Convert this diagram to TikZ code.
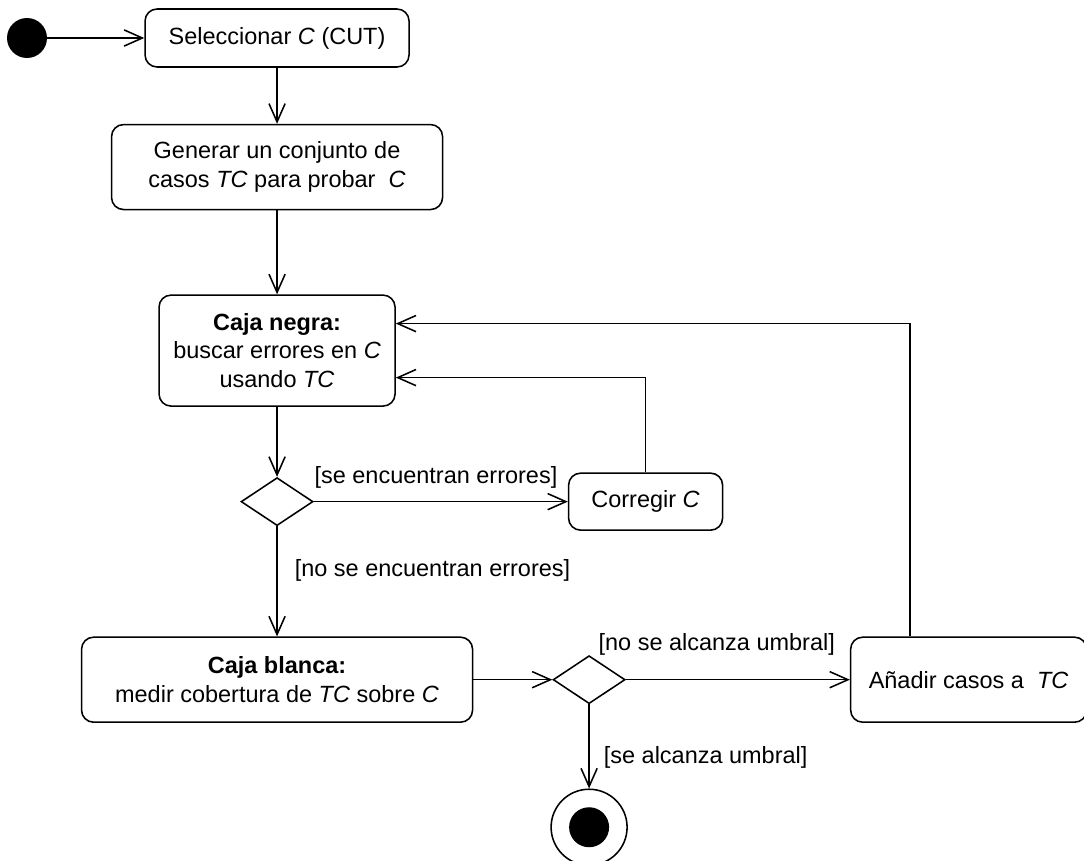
\documentclass[tikz,border=0pt]{standalone}
\usepackage{fontspec}
\setmainfont{Liberation Sans}
\usetikzlibrary{shapes.geometric, arrows.meta, positioning}

\begin{document}
\begin{tikzpicture}[node distance=1.4cm and 2cm, font=\fontsize{16.7}{20.5}\selectfont]
    \tikzstyle{actbox}=[rectangle, rounded corners=0.3cm, draw, line width=1.1pt,
                        align=center, inner sep=2pt]
    \tikzstyle{decision}=[diamond, draw, line width=1.1pt, minimum width=1.8cm,
                          minimum height=1.2cm, inner sep=0pt]
    \tikzstyle{arr}=[-{Straight Barb[length=13pt, width=11.5pt]}, line width=1.1pt]
    \tikzstyle{guard}=[inner sep=0pt, anchor=west]

    \useasboundingbox (0,0) rectangle (27.1,-21.5);

    \node[circle, fill=black, minimum size=1cm, inner sep=0pt] (ini) at (0.675,-0.95) {};
    \node[actbox, minimum width=6.6cm, minimum height=1.45cm, right=2.425cm of ini] (sel)
        {Seleccionar \textit{C} (CUT)};
    \node[actbox, minimum width=8.275cm, minimum height=2.125cm, below=1.4cm of sel] (gen)
        {Generar un conjunto de\\casos \textit{TC} para probar\ \ \textit{C}};
    \node[actbox, minimum width=5.9cm, minimum height=2.775cm, below=2.1cm of gen] (neg)
        {\textbf{Caja negra:}\\buscar errores en \textit{C}\\usando \textit{TC}};
    \node[decision, below=1.75cm of neg] (dec1) {};
    \node[actbox, minimum width=3.85cm, minimum height=1.425cm, right=6.35cm of dec1] (corr)
        {Corregir \textit{C}};
    \node[actbox, minimum width=9.775cm, minimum height=2.125cm, below=2.75cm of dec1] (bla)
        {\textbf{Caja blanca:}\\medir cobertura de \textit{TC} sobre \textit{C}};
    \node[decision, right=1.975cm of bla] (dec2) {};
    \node[actbox, minimum width=5.9cm, minimum height=2.125cm, right=5.6cm of dec2] (ana)
        {Añadir casos a\ \ \textit{TC}};
    \node[circle, draw, line width=1.1pt, minimum size=1.9cm, inner sep=0pt,
          below=2.1cm of dec2] (fin) {};
    \node[circle, fill=black, minimum size=1cm, inner sep=0pt] (fincore) at (fin) {};

    \draw[arr] (ini) -- (sel);
    \draw[arr] (sel) -- (gen);
    \draw[arr] (gen) -- (neg);
    \draw[arr] (neg) -- (dec1);
    \draw[arr] (dec1) -- (corr.west |- dec1)
        node[guard, pos=0, yshift=0.6cm] {{[}se encuentran errores]};
    \draw[arr] (corr.north) |- ([yshift=-0.675cm]neg.east);
    \draw[arr] (dec1) -- (bla)
        node[guard, pos=0.4, xshift=0.425cm] {{[}no se encuentran errores]};
    \draw[arr] (bla) -- (dec2);
    \draw[arr] (dec2) -- (ana)
        node[guard, pos=0, xshift=-0.7cm, yshift=0.89cm] {{[}no se alcanza umbral]};
    \draw[arr] ([xshift=-1.47cm]ana.north) |- ([yshift=0.675cm]neg.east);
    \draw[arr] (dec2) -- (fin)
        node[guard, pos=0.625, xshift=0.35cm] {{[}se alcanza umbral]};
\end{tikzpicture}
\end{document}
